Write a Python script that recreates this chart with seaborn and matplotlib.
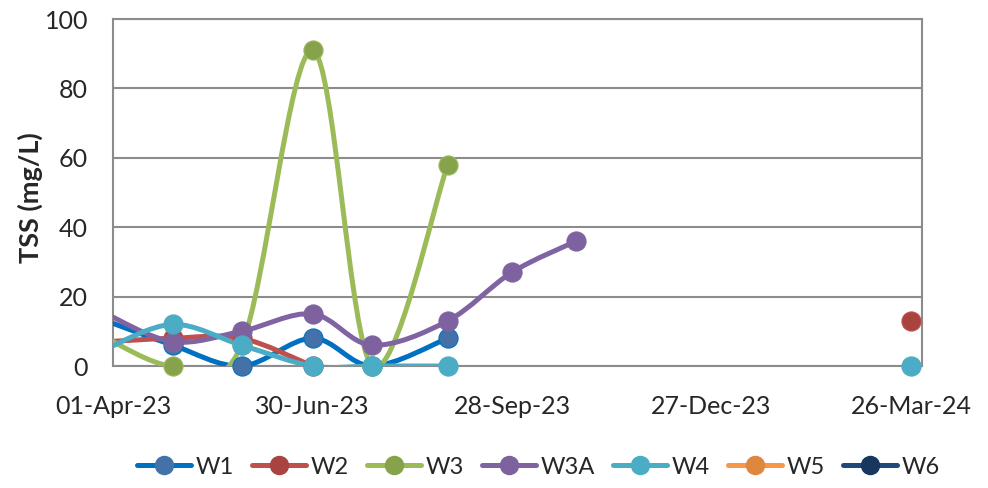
"""TSS time series per sampling site, Excel-style smoothed lines."""

import numpy as np
import pandas as pd
import matplotlib
matplotlib.use("Agg")
import matplotlib.pyplot as plt
import matplotlib.dates as mdates
from matplotlib.path import Path
from matplotlib.patches import PathPatch
from matplotlib.lines import Line2D
import seaborn as sns

# sampling dates (first one falls just before the axis start)
dates = pd.to_datetime([
    "2023-03-29", "2023-04-28", "2023-05-29", "2023-06-30", "2023-07-27",
    "2023-08-30", "2023-09-28", "2023-10-27", "2024-03-26",
])

nan = np.nan
w1 = [13, 6, 0, 8, 0, 8, nan, nan, nan]
w2 = [7, 8, 8, 0, nan, nan, nan, nan, 13]
w3 = [8, 0, 6, 91, 0, 58, nan, nan, nan]
w3a = [15, 7, 10, 15, 6, 13, 27, 36, nan]
w4 = [5, 12, 6, 0, 0, 0, nan, nan, 0]
w5 = [nan] * 9
w6 = [nan] * 9

site_names = ["W1", "W2", "W3", "W3A", "W4", "W5", "W6"]
site_values = [w1, w2, w3, w3a, w4, w5, w6]
line_colors = ["#0070C0", "#C0504D", "#9BBB59", "#8064A2", "#4BACC6", "#F79646", "#1F497D"]
marker_colors = ["#4472A8", "#A9433F", "#86A34B", "#7E62A0", "#4BACC6", "#E0873E", "#17375E"]

x_start = pd.Timestamp("2023-04-01")
x_end = pd.Timestamp("2024-03-31")
tick_dates = [x_start + pd.Timedelta(days=90 * k) for k in range(5)]
y_ticks = [0, 20, 40, 60, 80, 100]


def smooth_path(x, y):
    """Bezier path through points, like Excel's smoothed line."""
    pts = np.column_stack([x, y])
    n = len(pts)
    verts = [pts[0]]
    codes = [Path.MOVETO]
    for i in range(n - 1):
        p0 = pts[i - 1] if i > 0 else pts[i]
        p1 = pts[i]
        p2 = pts[i + 1]
        p3 = pts[i + 2] if i + 2 < n else pts[i + 1]
        c1 = p1 + (p2 - p0) / 6
        c2 = p2 - (p3 - p1) / 6
        verts += [c1, c2, p2]
        codes += [Path.CURVE4] * 3
    return Path(verts, codes)


sns.set_style("white")
plt.rcParams["font.family"] = ["Lato", "DejaVu Sans"]

fig = plt.figure(figsize=(9.88, 4.88), dpi=100)
ax = fig.add_axes([0.1144, 0.25, 0.8188, 0.711])

xnum = mdates.date2num(dates)
for name, vals, lc, mc in zip(site_names, site_values, line_colors, marker_colors):
    vals = np.array(vals, dtype=float)
    ok = ~np.isnan(vals)
    # split into runs without gaps
    runs, cur = [], []
    for i in range(len(vals)):
        if ok[i]:
            cur.append(i)
        else:
            if cur:
                runs.append(cur)
            cur = []
    if cur:
        runs.append(cur)
    for r in runs:
        if len(r) > 1:
            patch = PathPatch(smooth_path(xnum[r], vals[r]), facecolor="none",
                              edgecolor=lc, lw=3.6, capstyle="round",
                              joinstyle="round", zorder=3)
            ax.add_patch(patch)
    df = pd.DataFrame({"date": dates[ok], "tss": vals[ok]})
    df = df[(df["date"] >= x_start) & (df["date"] <= x_end)]
    if len(df):
        sns.scatterplot(data=df, x="date", y="tss", ax=ax, s=190, color=mc,
                        edgecolor=lc, linewidth=0.8, zorder=4, clip_on=False,
                        legend=False)

ax.set_xlim(x_start, x_end)
ax.set_ylim(0, 100)
ax.set_xticks(tick_dates)
ax.xaxis.set_major_formatter(mdates.DateFormatter("%d-%b-%y"))
ax.set_yticks(y_ticks)
ax.grid(axis="y", color="#8C8C8C", lw=1.5)
ax.set_axisbelow(True)
for sp in ax.spines.values():
    sp.set_color("#8C8C8C")
    sp.set_linewidth(1.5)
    sp.set_visible(True)
ax.tick_params(axis="x", length=7, width=1.5, color="#8C8C8C", pad=14,
               labelsize=18, direction="out")
ax.tick_params(axis="y", length=0, pad=18, labelsize=18)
ax.set_xlabel("")
ax.set_ylabel("TSS (mg/L)", fontsize=19.5, fontweight="bold")
ax.yaxis.set_label_coords(-0.086, 0.485)

handles = [Line2D([0], [0], color=lc, lw=3.6, marker="o", markersize=13,
                  markerfacecolor=mc, markeredgecolor=mc)
           for lc, mc in zip(line_colors, marker_colors)]
fig.legend(handles, site_names, loc="center", bbox_to_anchor=(0.545, 0.043),
           ncol=7, frameon=False, fontsize=17, handlelength=2.3,
           handletextpad=0.2, columnspacing=0.75)

fig.savefig("out.png", dpi=100)
